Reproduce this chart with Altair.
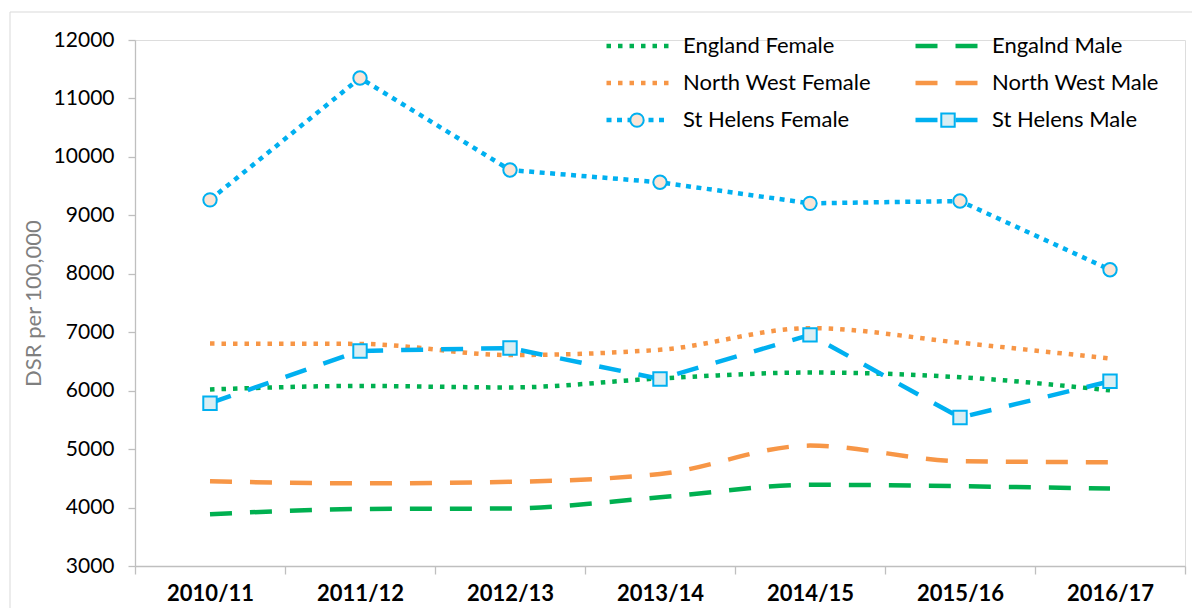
import altair as alt
import pandas as pd

years = ["2010/11", "2011/12", "2012/13", "2013/14", "2014/15", "2015/16", "2016/17"]
# legend order (filled column by column): left column females, right column males
series_names = ["England Female", "North West Female", "St Helens Female",
                "Engalnd Male", "North West Male", "St Helens Male"]

england_female = [6020, 6080, 6055, 6210, 6310, 6230, 6005]
england_male = [3885, 3975, 3985, 4175, 4390, 4365, 4325]
nw_female = [6805, 6800, 6610, 6700, 7070, 6820, 6550]
nw_male = [4450, 4415, 4440, 4575, 5060, 4795, 4775]
sth_female = [9265, 11350, 9775, 9565, 9205, 9245, 8070]
sth_male = [5785, 6680, 6730, 6200, 6955, 5540, 6160]

values = [england_female, nw_female, sth_female, england_male, nw_male, sth_male]
smooth = [True, True, False, True, True, False]

rows = []
for name, vals, sm in zip(series_names, values, smooth):
    for y, v in zip(years, vals):
        rows.append({"year": y, "value": v, "series": name, "smooth": sm})
df = pd.DataFrame(rows)

colors = ["#00B050", "#F79646", "#00B0F0", "#00B050", "#F79646", "#00B0F0"]
dot = [4.5, 7]
dot2 = [5, 5.5]
dash = [22, 18]
dashes = [dot, dot, dot2, dash, dash, dash]
widths = [4.5, 4.5, 5, 6, 6, 6]

sth_names = ["St Helens Female", "St Helens Male"]
marker_shapes = ["circle", "square"]
marker_fills = ["#FBE5D6", "#DAEEF3"]
marker_strokes = ["#00B0F0", "#00B0F0"]

FONT = "Lato"

x_enc = alt.X("year:O", sort=years,
              scale=alt.Scale(type="band", paddingInner=0, paddingOuter=0),
              axis=alt.Axis(title=None, labelFontSize=22, labelFontWeight="bold",
                            labelColor="#000000", labelFont=FONT, labelPadding=9,
                            tickBand="extent", tickSize=8, tickColor="#BFBFBF",
                            domainColor="#BFBFBF", domainWidth=1.3, tickWidth=1.3,
                            labelAngle=0, grid=False))
y_enc = alt.Y("value:Q",
              scale=alt.Scale(domain=[3000, 12000], nice=False, zero=False),
              axis=alt.Axis(title="DSR per 100,000", titleFontSize=22,
                            titleFontWeight="normal", titleColor="#7F7F7F",
                            titleFont=FONT, titlePadding=8,
                            values=list(range(3000, 12001, 1000)),
                            labelFontSize=21, labelColor="#000000", labelFont=FONT,
                            labelPadding=14, tickSize=7, tickColor="#BFBFBF",
                            domainColor="#BFBFBF", domainWidth=1.3, tickWidth=1.3,
                            grid=False, format="d"))

legend_path = "M-2.5,0L2.5,0"
color_enc = alt.Color("series:N",
                      scale=alt.Scale(domain=series_names, range=colors),
                      legend=alt.Legend(title=None, orient="none", legendX=488, legendY=-9,
                                        columns=2, columnPadding=35, rowPadding=11,
                                        symbolType=legend_path, symbolSize=635,
                                        symbolStrokeWidth=5, labelFontSize=22,
                                        labelFont=FONT, labelColor="#000000",
                                        labelOffset=30, padding=0, labelLimit=400))
dash_enc = alt.StrokeDash("series:N",
                          scale=alt.Scale(domain=series_names, range=dashes))
width_enc = alt.StrokeWidth("series:N",
                            scale=alt.Scale(domain=series_names, range=widths),
                            legend=None)

base = alt.Chart(df)

smooth_lines = base.transform_filter("datum.smooth").mark_line(
    interpolate="monotone").encode(
    x=x_enc, y=y_enc, color=color_enc, strokeDash=dash_enc, strokeWidth=width_enc,
    detail="series:N")

straight_lines = base.transform_filter("!datum.smooth").mark_line(
    interpolate="linear").encode(
    x=x_enc, y=y_enc, color=color_enc, strokeDash=dash_enc, strokeWidth=width_enc,
    detail="series:N")

marker_legend = alt.Legend(title=None, orient="none", legendX=494, legendY=72,
                           direction="horizontal", columns=2, columnPadding=289,
                           symbolSize=180, symbolStrokeWidth=2,
                           labelExpr="''", labelFontSize=10,
                           labelOffset=0, padding=0)

points = base.transform_filter("!datum.smooth").mark_point(
    filled=False, strokeWidth=2, opacity=1, size=180).encode(
    x=x_enc, y=y_enc,
    shape=alt.Shape("series:N",
                    scale=alt.Scale(domain=sth_names, range=marker_shapes),
                    legend=marker_legend),
    fill=alt.Fill("series:N",
                  scale=alt.Scale(domain=sth_names, range=marker_fills),
                  legend=marker_legend),
    stroke=alt.Stroke("series:N",
                      scale=alt.Scale(domain=sth_names, range=marker_strokes),
                      legend=marker_legend),
)

# light chart-area frame (top and left edges visible in the reference)
frame_left = alt.Chart(pd.DataFrame({"a": [0]})).mark_rule(
    color="#D9D9D9", strokeWidth=1).encode(
    x=alt.value(-125), y=alt.value(-28), y2=alt.value(580))
frame_top = alt.Chart(pd.DataFrame({"a": [0]})).mark_rule(
    color="#D9D9D9", strokeWidth=1).encode(
    x=alt.value(-125), x2=alt.value(1080), y=alt.value(-28))

chart = alt.layer(frame_left, frame_top, smooth_lines, straight_lines, points).resolve_scale(
    fill="independent", shape="independent", stroke="independent"
).properties(
    width=1050, height=526,
    autosize=alt.AutoSizeParams(type="none"),
    padding={"left": 127, "top": 32, "right": 7, "bottom": 42},
).configure_view(stroke=None).configure(font=FONT)

chart.save("out.html", embed_options={"renderer": "svg", "actions": False})
